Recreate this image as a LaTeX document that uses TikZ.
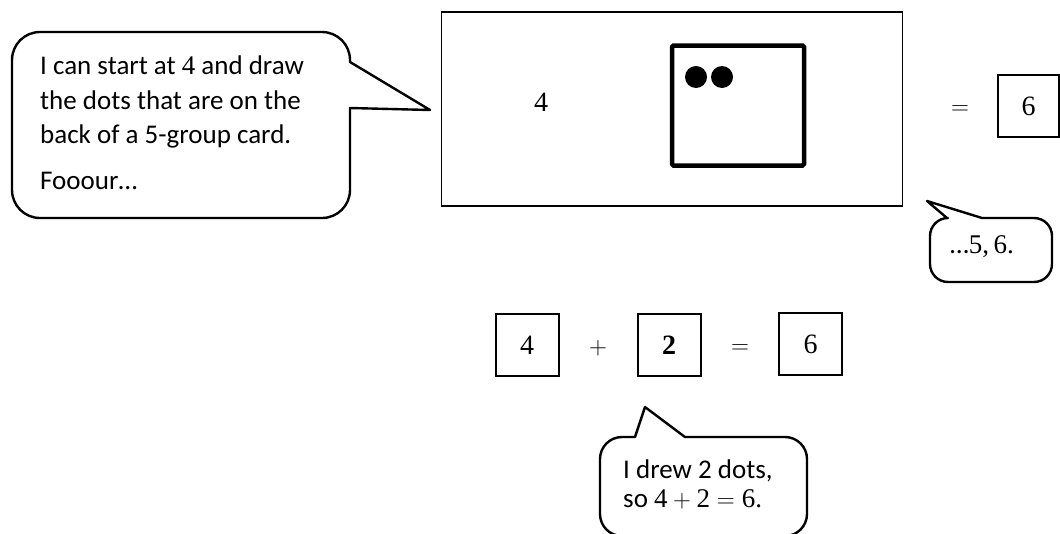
\documentclass[tikz,border=0pt]{standalone}
\usepackage[no-math]{fontspec}
\setmainfont{Carlito}
\newfontfamily\numfont{Liberation Serif}
\usetikzlibrary{positioning}

\tikzset{
  bubble/.style={draw, line width=2.4pt, line join=round},
  numbox/.style={draw, line width=2pt, minimum width=63pt, minimum height=62pt, inner sep=0pt, font=\numfont\fontsize{28}{30}\selectfont},
  say/.style={inner sep=0pt, font=\fontsize{27}{34.5}\selectfont},
  sym/.style={inner sep=0pt, font=\numfont\fontsize{28}{30}\selectfont},
}

\begin{document}
\begin{tikzpicture}[x=1pt, y=-1pt]
\useasboundingbox (0,0) rectangle (1060,533);

% Speech bubbles
\draw[bubble] (430,110) -- (350,108) [rounded corners=28pt] -- (350,218) -- (12,218) -- (12,32) -- (350,32) [sharp corners] -- (350,62) -- cycle;
\draw[bubble] (927,201) -- (947,218) [rounded corners=18pt] -- (930,218) -- (930,282) -- (1052,282) -- (1052,218) [sharp corners] -- (982,218) -- cycle;
\draw[bubble] (645,407) -- (685,437) [rounded corners=22pt] -- (807,437) -- (807,536) -- (600,536) -- (600,437) [sharp corners] -- (635,437) -- cycle;

% Bubble texts
\node (say1) at (40,56) [say, anchor=north west, align=left] {I can start at {\numfont 4} and draw\\ the dots that are on the\\ back of a 5-group card.};
\node (say2) at (40,189) [say, anchor=base west] {Fooour…};
\node (say3) at (982,253) [say, anchor=base] {…{\numfont 5,\,6.}};
\node (say4) at (623,478) [say, anchor=base west] {I drew 2 dots,};
\node (say5) at (623,507) [say, anchor=base west] {so {\numfont 4}${}+{}${\numfont 2}${}={}${\numfont 6.}};

% Card with the 5-group back
\node (card) at (672.3,109) [draw, line width=1.2pt, minimum width=461pt, minimum height=194pt] {};
\node (four) at (541,111) [sym, anchor=base] {4};
\node (back) at (738,105.5) [draw, line width=4.5pt, rounded corners=1.5pt, minimum width=132pt, minimum height=120pt] {};
\fill (696,77) circle (11pt);
\fill (722,77) circle (11pt);
\node (eqtop) at (960,110) [sym] {$=$};
\node (sixtop) at (1028.7,106) [numbox, minimum width=60.5pt] {6};

% Number sentence
\node (b4) at (527,345) [numbox] {4};
\node (plus) at (598,348) [sym] {$+$};
\node (b2) at (669,345) [numbox] {\bfseries 2};
\node (eqbot) at (740,349) [sym] {$=$};
\node (b6) at (810.5,344) [numbox] {6};
\end{tikzpicture}
\end{document}
